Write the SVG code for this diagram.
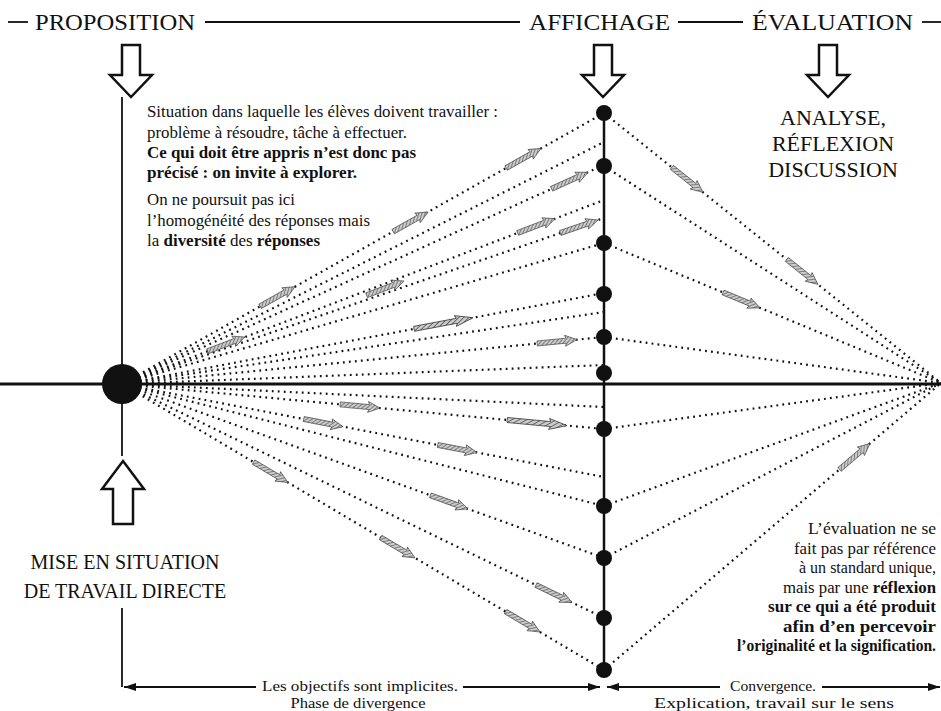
<svg xmlns="http://www.w3.org/2000/svg" xmlns:xlink="http://www.w3.org/1999/xlink" width="941" height="711" viewBox="0 0 941 711">
<style>
.t{font-family:"Liberation Serif","Times New Roman",serif;fill:#111}
.hd{font-size:23px}
.big{font-size:22px}
.mid{font-size:20px}
.s{font-size:16px}
.b{font-weight:bold}
.dot{fill:none;stroke:#111;stroke-width:2.2;stroke-dasharray:1.8 4.2}
.solid{stroke:#111;fill:none}
.hollow{fill:#fff;stroke:#111;stroke-width:2.5}
</style>
<defs>
<path id="hollow" d="M-9,0 H9 V30 H21 L0,52 L-21,30 H-9 Z"/>
<pattern id="hatch" width="3" height="3" patternUnits="userSpaceOnUse" patternTransform="rotate(45)">
<rect width="3" height="3" fill="#ccc"/>
<line x1="0" y1="0" x2="0" y2="3" stroke="#444" stroke-width="1.2"/>
</pattern>
<g id="ha"><path d="M-40,-2.5 L-11,-2.5 L-12,-5.5 L0,0 L-12,5.5 L-11,2.5 L-40,2.5 Z" fill="url(#hatch)" stroke="#333" stroke-width="0.6"/></g>
<marker id="ah" viewBox="0 0 12 8" refX="12" refY="4" markerWidth="12" markerHeight="8" markerUnits="userSpaceOnUse" orient="auto-start-reverse"><path d="M0,0 L12,4 L0,8 Z" fill="#111"/></marker>
</defs>

<g id="header">
<line class="solid" x1="8" y1="22" x2="28" y2="22" stroke-width="1.8"/>
<text class="t hd" x="35" y="30" textLength="160" lengthAdjust="spacingAndGlyphs">PROPOSITION</text>
<line class="solid" x1="205" y1="22" x2="520" y2="22" stroke-width="1.8"/>
<text class="t hd" x="529" y="30" textLength="141" lengthAdjust="spacingAndGlyphs">AFFICHAGE</text>
<line class="solid" x1="678" y1="22" x2="743" y2="22" stroke-width="1.8"/>
<text class="t hd" x="752" y="30" textLength="161" lengthAdjust="spacingAndGlyphs">ÉVALUATION</text>
<line class="solid" x1="922" y1="22" x2="941" y2="22" stroke-width="1.8"/>
</g>

<g id="arrow-proposition"><use href="#hollow" class="hollow" transform="translate(131,45)"/></g>
<g id="arrow-affichage"><use href="#hollow" class="hollow" transform="translate(603,45)"/></g>
<g id="arrow-evaluation"><use href="#hollow" class="hollow" transform="translate(828,45)"/></g>
<g id="arrow-mise"><path class="hollow" d="M123,461 L144,489 H133 V524 H113 V489 H102 Z"/></g>

<g id="connectors">
<!-- main axes -->
<line class="solid" x1="0" y1="384" x2="941" y2="384" stroke-width="3"/>
<line class="solid" x1="122" y1="97" x2="122" y2="456" stroke-width="1.8"/>
<line class="solid" x1="122" y1="608" x2="122" y2="687" stroke-width="1.8"/>
<line class="solid" x1="604" y1="113" x2="604" y2="670" stroke-width="2.5"/>
<!-- left fan -->
<g class="dot">
<line x1="122" y1="384" x2="604" y2="113"/>
<line x1="122" y1="384" x2="604" y2="142"/>
<line x1="122" y1="384" x2="604" y2="165"/>
<line x1="122" y1="384" x2="604" y2="200"/>
<line x1="122" y1="384" x2="604" y2="218"/>
<line x1="122" y1="384" x2="604" y2="243"/>
<line x1="122" y1="384" x2="604" y2="293"/>
<line x1="122" y1="384" x2="604" y2="312"/>
<line x1="122" y1="384" x2="604" y2="337"/>
<line x1="122" y1="384" x2="604" y2="365"/>
<line x1="122" y1="384" x2="604" y2="407"/>
<line x1="122" y1="384" x2="604" y2="429"/>
<line x1="122" y1="384" x2="604" y2="477"/>
<line x1="122" y1="384" x2="604" y2="506"/>
<line x1="122" y1="384" x2="604" y2="558"/>
<line x1="122" y1="384" x2="604" y2="618"/>
<line x1="122" y1="384" x2="604" y2="670"/>
<!-- right fan -->
<line x1="604" y1="113" x2="941" y2="383"/>
<line x1="604" y1="166" x2="941" y2="383"/>
<line x1="604" y1="243" x2="941" y2="383"/>
<line x1="604" y1="337" x2="941" y2="383"/>
<line x1="604" y1="429" x2="941" y2="383"/>
<line x1="604" y1="506" x2="941" y2="383"/>
<line x1="604" y1="558" x2="941" y2="383"/>
<line x1="604" y1="670" x2="941" y2="383"/>
</g>
<!-- hatched direction arrows -->
<use href="#ha" transform="translate(295,286.7) rotate(-29.35)"/>
<use href="#ha" transform="translate(428,212) rotate(-29.35)"/>
<use href="#ha" transform="translate(541,148.4) rotate(-29.35)"/>
<use href="#ha" transform="translate(588,172.3) rotate(-24.4)"/>
<use href="#ha" transform="translate(598,220) rotate(-19)"/>
<use href="#ha" transform="translate(555,218.7) rotate(-20.9)"/>
<use href="#ha" transform="translate(404,281) rotate(-20.9)"/>
<use href="#ha" transform="translate(245,337) rotate(-20.9)"/>
<use href="#ha" transform="translate(473,317.7) rotate(-10.7) scale(1.5,1)"/>
<use href="#ha" transform="translate(577,339.6) rotate(-5.57)"/>
<use href="#ha" transform="translate(380,408.1) rotate(5.33)"/>
<use href="#ha" transform="translate(567,425.6) rotate(5.33) scale(1.5,1)"/>
<use href="#ha" transform="translate(343,426.6) rotate(10.9)"/>
<use href="#ha" transform="translate(477,452.5) rotate(10.9)"/>
<use href="#ha" transform="translate(468,508.9) rotate(19.85)"/>
<use href="#ha" transform="translate(572,602.5) rotate(25.9)"/>
<use href="#ha" transform="translate(288,482.5) rotate(30.68)"/>
<use href="#ha" transform="translate(415,557.9) rotate(30.68)"/>
<use href="#ha" transform="translate(540,632) rotate(30.68)"/>
<use href="#ha" transform="translate(703,192.3) rotate(38.7)"/>
<use href="#ha" transform="translate(818,284.4) rotate(38.7)"/>
<use href="#ha" transform="translate(760,307.8) rotate(22.56)"/>
<use href="#ha" transform="translate(870,443.5) rotate(-40.4)"/>
<!-- bottom arrows -->
<line class="solid" x1="256" y1="687" x2="124" y2="687" stroke-width="1.8" marker-end="url(#ah)"/>
<line class="solid" x1="463" y1="687" x2="600" y2="687" stroke-width="1.8" marker-end="url(#ah)"/>
<line class="solid" x1="720" y1="687" x2="607" y2="687" stroke-width="1.8" marker-end="url(#ah)"/>
<line class="solid" x1="822" y1="687" x2="940" y2="687" stroke-width="1.8" marker-end="url(#ah)"/>
</g>

<g id="source-dot"><circle cx="122" cy="384" r="20" fill="#111"/></g>
<g id="display-dots" fill="#111">
<circle cx="604" cy="113" r="8"/>
<circle cx="604" cy="166" r="8"/>
<circle cx="604" cy="243" r="8"/>
<circle cx="604" cy="294" r="8"/>
<circle cx="604" cy="337" r="8"/>
<circle cx="604" cy="373" r="8"/>
<circle cx="604" cy="429" r="8"/>
<circle cx="604" cy="506" r="8"/>
<circle cx="604" cy="558" r="8"/>
<circle cx="604" cy="618" r="8"/>
<circle cx="604" cy="670" r="8"/>
</g>

<g id="text-situation" class="t">
<text class="s" x="147" y="117" textLength="351" lengthAdjust="spacingAndGlyphs">Situation dans laquelle les élèves doivent travailler :</text>
<text class="s" x="147" y="138" textLength="260" lengthAdjust="spacingAndGlyphs">problème à résoudre, tâche à effectuer.</text>
<text class="b" x="147" y="158" font-size="17" textLength="269" lengthAdjust="spacingAndGlyphs">Ce qui doit être appris n’est donc pas</text>
<text class="b" x="147" y="178" font-size="17" textLength="210" lengthAdjust="spacingAndGlyphs">précisé : on invite à explorer.</text>
<text class="s" x="147" y="205" textLength="148" lengthAdjust="spacingAndGlyphs">On ne poursuit pas ici</text>
<text class="s" x="147" y="226" textLength="223" lengthAdjust="spacingAndGlyphs">l’homogénéité des réponses mais</text>
<text class="s" x="147" y="246" textLength="173" lengthAdjust="spacingAndGlyphs">la <tspan class="b">diversité</tspan> des <tspan class="b">réponses</tspan></text>
</g>

<g id="text-analyse" class="t big" text-anchor="middle">
<text x="833" y="125">ANALYSE,</text>
<text x="833" y="151">RÉFLEXION</text>
<text x="833" y="177">DISCUSSION</text>
</g>

<g id="text-mise" class="t mid" text-anchor="middle">
<text x="125" y="569">MISE EN SITUATION</text>
<text x="125" y="598">DE TRAVAIL DIRECTE</text>
</g>

<g id="text-evaluation" class="t" font-size="16" text-anchor="end">
<text x="936" y="534" textLength="128" lengthAdjust="spacingAndGlyphs">L’évaluation ne se</text>
<text x="936" y="553.5" textLength="142" lengthAdjust="spacingAndGlyphs">fait pas par référence</text>
<text x="936" y="573" textLength="137" lengthAdjust="spacingAndGlyphs">à un standard unique,</text>
<text x="936" y="592.5" textLength="153" lengthAdjust="spacingAndGlyphs">mais par une <tspan class="b">réflexion</tspan></text>
<text class="b" x="936" y="612" textLength="168" lengthAdjust="spacingAndGlyphs">sur ce qui a été produit</text>
<text class="b" x="936" y="631.5" textLength="153" lengthAdjust="spacingAndGlyphs">afin d’en percevoir</text>
<text class="b" x="936" y="651" textLength="199" lengthAdjust="spacingAndGlyphs">l’originalité et la signification.</text>
</g>

<g id="text-bottom" class="t" font-size="14.5" text-anchor="middle">
<text x="360" y="690.5" textLength="196" lengthAdjust="spacingAndGlyphs">Les objectifs sont implicites.</text>
<text x="358" y="707.5" textLength="135" lengthAdjust="spacingAndGlyphs">Phase de divergence</text>
<text x="773" y="690.5" textLength="86" lengthAdjust="spacingAndGlyphs">Convergence.</text>
<text x="774" y="707.5" textLength="240" lengthAdjust="spacingAndGlyphs">Explication, travail sur le sens</text>
</g>
</svg>
